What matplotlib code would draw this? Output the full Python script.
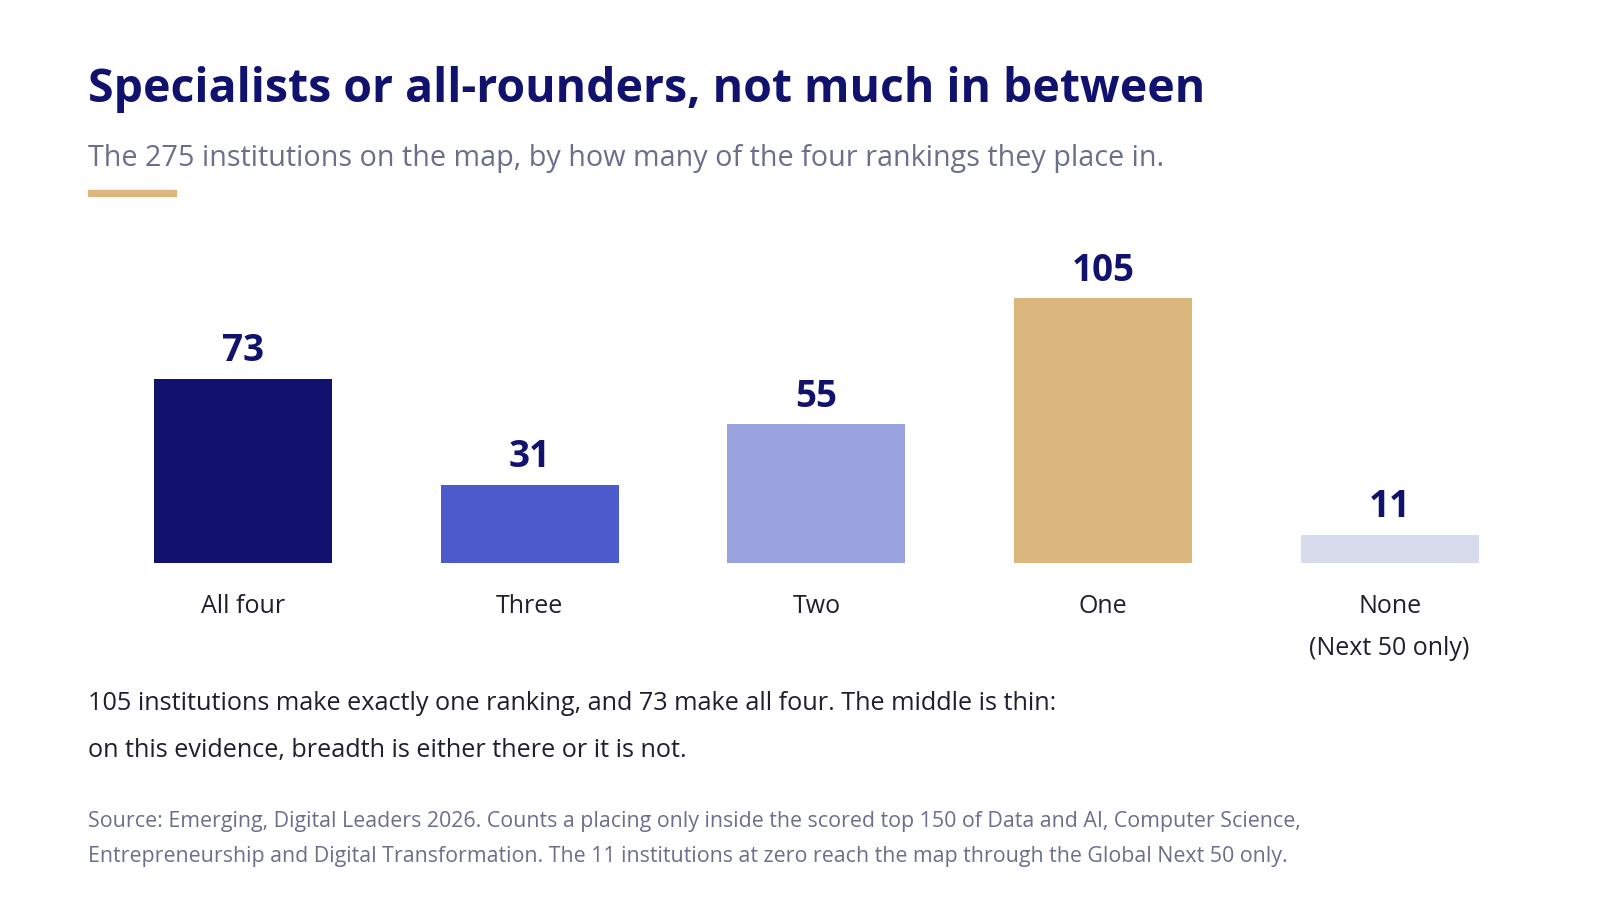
import matplotlib
matplotlib.use("Agg")
import matplotlib.pyplot as plt
from matplotlib.patches import Rectangle

plt.rcParams['font.family'] = ['Open Sans', 'DejaVu Sans']

# data
categories = ["All four", "Three", "Two", "One", "None\n(Next 50 only)"]
counts = [73, 31, 55, 105, 11]
bar_colors = ["#10126e", "#4b5bcc", "#99a1df", "#dbb77d", "#d8dbeb"]

title = "Specialists or all-rounders, not much in between"
subtitle = "The 275 institutions on the map, by how many of the four rankings they place in."
note_lines = ["105 institutions make exactly one ranking, and 73 make all four. The middle is thin:",
              "on this evidence, breadth is either there or it is not."]
source_lines = ["Source: Emerging, Digital Leaders 2026. Counts a placing only inside the scored top 150 of Data and AI, Computer Science,",
                "Entrepreneurship and Digital Transformation. The 11 institutions at zero reach the map through the Global Next 50 only."]

NAVY = "#10126e"
GREY = "#6b6f8c"
DARK = "#1f1f2e"

# layout measured on a 1567x900 grid, drawn at 1600x919
S = 1600 / 1567
W, H = 1567, 900
fig = plt.figure(figsize=(16, 9.19), dpi=100)
fig.patch.set_facecolor("white")

def fx(px):
    return px / W

def fy(py):
    return 1 - py / H

def pt(px):
    # layout pixels -> points
    return px * S * 0.72

# title block
fig.text(fx(86), fy(88), title, fontsize=33.4, fontweight="bold", color=NAVY, va="center", ha="left")
fig.text(fx(86), fy(155), subtitle, fontsize=20.7, color=GREY, va="center", ha="left")
fig.patches.append(Rectangle((fx(86), fy(192)), fx(86), 6 / H, transform=fig.transFigure,
                             color="#dbb77d", zorder=3))

# bars
ax_left, ax_right = 97.6, 1501.4
ax_top, ax_bottom = 240, 551
ax = fig.add_axes([fx(ax_left), fy(ax_bottom), fx(ax_right - ax_left), (ax_bottom - ax_top) / H])
ax.set_xlim(-0.5, len(categories) - 0.5)
ax.set_ylim(0, (ax_bottom - ax_top) / (259 / 105))
x = list(range(len(categories)))
ax.bar(x, counts, width=0.62, color=bar_colors)
for xi, v in zip(x, counts):
    ax.annotate(str(v), (xi, v), xytext=(0, pt(27)), textcoords="offset points",
                ha="center", va="center", fontsize=26.5, fontweight="bold", color=NAVY)
ax.axis("off")

for xi, lab in zip(x, categories):
    for i, line in enumerate(lab.split("\n")):
        ax.annotate(line, (xi, 0), xytext=(0, -pt(43 + 41 * i)), textcoords="offset points",
                    ha="center", va="center", fontsize=18, color=DARK)

# note and source
fig.text(fx(86), fy(689), note_lines[0], fontsize=18.2, color=DARK, va="center")
fig.text(fx(86), fy(735), note_lines[1], fontsize=18.2, color=DARK, va="center")
fig.text(fx(86), fy(805), source_lines[0], fontsize=15.4, color=GREY, va="center")
fig.text(fx(86), fy(839), source_lines[1], fontsize=15.4, color=GREY, va="center")

fig.savefig("out.png", dpi=100, facecolor="white")
